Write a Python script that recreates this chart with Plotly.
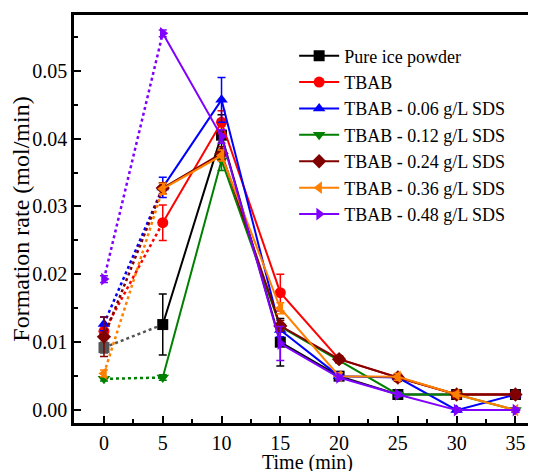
import plotly.graph_objects as go

# time points (min)
time = [0, 5, 10, 15, 20, 25, 30, 35]

# formation rate (mol/min)
pure_ice = [0.0092, 0.0126, 0.0405, 0.0100, 0.0050, 0.0023, 0.0023, 0.0023]
tbab = [0.0116, 0.0276, 0.0424, 0.0173, 0.0075, 0.0048, 0.0023, 0.0023]
sds_006 = [0.0127, 0.0328, 0.0457, 0.0118, 0.0050, 0.0048, 0.0000, 0.0023]
sds_012 = [0.0046, 0.0048, 0.0368, 0.0123, 0.0073, 0.0023, 0.0023, 0.0000]
sds_024 = [0.0108, 0.0327, 0.0378, 0.0124, 0.0075, 0.0048, 0.0023, 0.0023]
sds_036 = [0.0054, 0.0326, 0.0375, 0.0150, 0.0050, 0.0049, 0.0023, 0.0000]
sds_048 = [0.0193, 0.0555, 0.0403, 0.0098, 0.0048, 0.0023, 0.0000, 0.0000]

# error bars
pure_ice_err = [0.0008, 0.0045, 0.0030, 0.0035, 0.0005, 0.0003, 0.0003, 0.0003]
tbab_err = [0.0008, 0.0026, 0.0017, 0.0027, 0.0005, 0.0005, 0.0003, 0.0003]
sds_006_err = [0.0010, 0.0015, 0.0033, 0.0010, 0.0003, 0.0003, 0.0003, 0.0005]
sds_012_err = [0.0003, 0.0004, 0.0015, 0.0005, 0.0003, 0.0003, 0.0003, 0.0003]
sds_024_err = [0.0029, 0.0008, 0.0010, 0.0008, 0.0005, 0.0005, 0.0003, 0.0005]
sds_036_err = [0.0005, 0.0008, 0.0008, 0.0008, 0.0005, 0.0005, 0.0003, 0.0003]
sds_048_err = [0.0005, 0.0005, 0.0010, 0.0025, 0.0003, 0.0003, 0.0003, 0.0003]

names = ["Pure ice powder", "TBAB", "TBAB - 0.06 g/L SDS", "TBAB - 0.12 g/L SDS",
         "TBAB - 0.24 g/L SDS", "TBAB - 0.36 g/L SDS", "TBAB - 0.48 g/L SDS"]
values = [pure_ice, tbab, sds_006, sds_012, sds_024, sds_036, sds_048]
errors = [pure_ice_err, tbab_err, sds_006_err, sds_012_err, sds_024_err, sds_036_err, sds_048_err]
colors = ["#000000", "#ff0000", "#0000ff", "#008000", "#800000", "#ff8000", "#8000ff"]
first_colors = ["#555555", "#ff0000", "#0000ff", "#008000", "#800000", "#ff8000", "#8000ff"]
symbols = ["square", "circle", "triangle-up", "triangle-down", "diamond", "triangle-left", "triangle-right"]

FONT = "Liberation Serif, Times New Roman, serif"

fig = go.Figure()

for name, y, err, c, c0, sym in zip(names, values, errors, colors, first_colors, symbols):
    # dotted link between 0 and 5 min
    fig.add_trace(go.Scatter(x=time[:2], y=y[:2], mode="lines",
                             line=dict(color=c0, width=2.5, dash="dot"),
                             showlegend=False, hoverinfo="skip"))
    # first point
    fig.add_trace(go.Scatter(x=time[:1], y=y[:1], mode="markers",
                             marker=dict(symbol=sym, size=11, color=c0),
                             error_y=dict(type="data", array=err[:1], color=c0, thickness=1.5, width=4),
                             showlegend=False))
    # main series
    fig.add_trace(go.Scatter(x=time[1:], y=y[1:], mode="lines+markers", name=name,
                             line=dict(color=c, width=2),
                             marker=dict(symbol=sym, size=11, color=c),
                             error_y=dict(type="data", array=err[1:], color=c, thickness=1.5, width=4)))

# x title as annotation so it can sit partly below the bottom edge like the reference
fig.add_annotation(text="Time (min)", xref="paper", yref="paper", x=0.505, y=-0.096,
                   xanchor="center", yanchor="middle", showarrow=False,
                   font=dict(family=FONT, size=20, color="black"))

# page body adds ~8px margin, so the figure is 8px smaller and margins shifted
fig.update_layout(
    width=528, height=463,
    margin=dict(l=66, r=0, t=7, b=48),
    plot_bgcolor="white", paper_bgcolor="white",
    font=dict(family=FONT, size=20, color="black"),
    legend=dict(x=0.4765, y=0.945, xanchor="left", yanchor="top", itemwidth=40,
                bgcolor="rgba(0,0,0,0)", font=dict(size=18), tracegroupgap=0),
    xaxis=dict(range=[-2.55, 36.75], tickvals=time, showgrid=False, zeroline=False,
               automargin=False,
               showline=True, linecolor="black", linewidth=2.5, mirror=True,
               ticks="inside", ticklen=7, tickwidth=2, tickcolor="black",
               ticklabelstandoff=0,
               minor=dict(dtick=2.5, tick0=0, ticks="inside", ticklen=4, tickwidth=2, tickcolor="black")),
    yaxis=dict(range=[-0.0019, 0.0582], dtick=0.01, tick0=0, tickformat=".2f",
               showgrid=False, zeroline=False, automargin=False,
               showline=True, linecolor="black", linewidth=2.5,
               ticks="inside", ticklen=7, tickwidth=2, tickcolor="black",
               ticklabelstandoff=0,
               minor=dict(dtick=0.005, tick0=0, ticks="inside", ticklen=4, tickwidth=2, tickcolor="black"),
               title=dict(text="Formation rate (mol/min)", standoff=0)),
)

fig.write_html("out.html")
